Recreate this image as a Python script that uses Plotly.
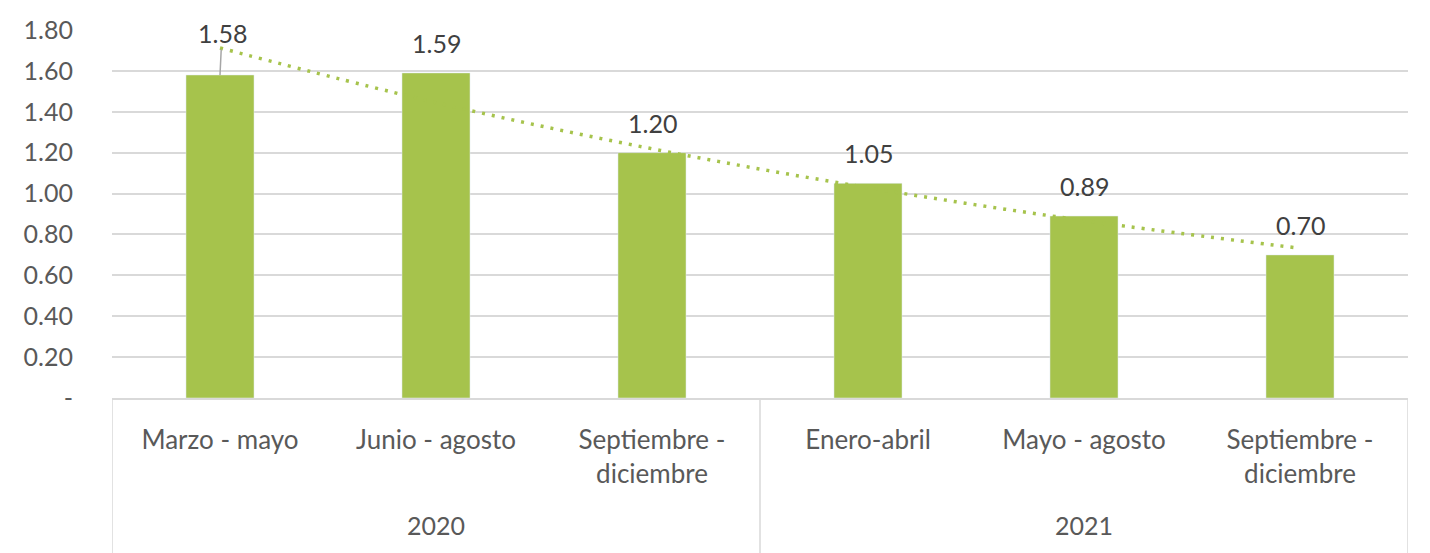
import numpy as np
import plotly.graph_objects as go

years = ["2020", "2020", "2020", "2021", "2021", "2021"]
periods = ["Marzo - mayo", "Junio - agosto", "Septiembre -<br>diciembre",
           "Enero-abril", "Mayo - agosto", "Septiembre -<br>diciembre"]
values = [1.58, 1.59, 1.20, 1.05, 0.89, 0.70]
y_ticks = [0, 0.2, 0.4, 0.6, 0.8, 1.0, 1.2, 1.4, 1.6, 1.8]
y_tick_labels = ["-", "0.20", "0.40", "0.60", "0.80", "1.00", "1.20", "1.40", "1.60", "1.80"]
year_groups = ["2020", "2021"]

GREEN = "#A6C34C"
GRID = "#D9D9D9"
FONT = "Lato"

cats = list(range(len(values)))

# exponential trendline (as in the source spreadsheet)
xi = np.arange(1, len(values) + 1)
b, a = np.polyfit(xi, np.log(values), 1)
trend = np.exp(a + b * xi)

fig = go.Figure()
fig.add_trace(go.Bar(x=cats, y=values, marker_color=GREEN, width=0.315,
                     hoverinfo="skip"))
fig.add_trace(go.Scatter(x=cats, y=trend, mode="lines",
                         line=dict(color=GREEN, width=3.5, dash="3px,7px", shape="spline"),
                         hoverinfo="skip"))

for i, v in enumerate(values):
    if i == 0:
        fig.add_annotation(x=cats[i], y=v, text=f"{v:.2f}", showarrow=True,
                           arrowhead=0, arrowwidth=1.5, arrowcolor="#A6A6A6",
                           ax=2, ay=-42, font=dict(family=FONT, size=25, color="#404040"))
    else:
        fig.add_annotation(x=cats[i], y=v, text=f"{v:.2f}", showarrow=False,
                           yanchor="middle", yshift=30,
                           font=dict(family=FONT, size=25, color="#404040"))

# group dividers and year labels
n_per = 3
for g, yr in enumerate(year_groups):
    fig.add_annotation(x=g * n_per + (n_per - 1) / 2, y=-0.345, xref="x", yref="paper",
                       text=yr, showarrow=False, yanchor="middle",
                       font=dict(family=FONT, size=25, color="#595959"))
for xd in [-0.5, 2.5, 5.5]:
    fig.add_shape(type="line", x0=xd, x1=xd, xref="x", y0=0, y1=-0.43, yref="paper",
                  line=dict(color=GRID, width=1.5))

fig.update_layout(
    width=1430, height=553,
    margin=dict(l=112, r=22, t=30, b=155),
    plot_bgcolor="white", paper_bgcolor="white",
    showlegend=False,
    font=dict(family=FONT, size=25, color="#595959"),
)
fig.update_xaxes(tickmode="array", tickvals=cats, ticktext=periods,
                 range=[-0.5, 5.5], showgrid=False, showline=True,
                 linecolor=GRID, linewidth=1.5, ticks="", ticklabelstandoff=18,
                 tickfont=dict(family=FONT, size=26, color="#595959"))
fig.update_yaxes(range=[0, 1.8], tickmode="array", tickvals=y_ticks,
                 ticktext=y_tick_labels, showgrid=True, gridcolor=GRID, gridwidth=1.5,
                 zeroline=False, ticks="", ticklabelstandoff=38,
                 tickfont=dict(family=FONT, size=25, color="#595959"))

fig.write_html("out.html")
